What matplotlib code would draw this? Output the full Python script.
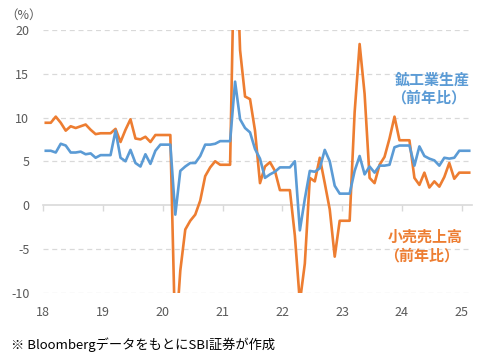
import numpy as np
import matplotlib
matplotlib.use("Agg")
import matplotlib.pyplot as plt

plt.rcParams['font.family'] = ['Noto Sans CJK JP', 'DejaVu Sans']

# Monthly, Jan 2018 - Feb 2025 (Jan/Feb carry the previous value)
industrial = [6.2, 6.2, 6.0, 7.0, 6.8, 6.0, 6.0, 6.1, 5.8, 5.9, 5.4, 5.7,
              5.7, 5.7, 8.5, 5.4, 5.0, 6.3, 4.8, 4.4, 5.8, 4.7, 6.2, 6.9,
              6.9, 6.9, -1.1, 3.9, 4.4, 4.8, 4.8, 5.6, 6.9, 6.9, 7.0, 7.3,
              7.3, 7.3, 14.1, 9.8, 8.8, 8.3, 6.4, 5.3, 3.1, 3.5, 3.8, 4.3,
              4.3, 4.3, 5.0, -2.9, 0.7, 3.9, 3.8, 4.2, 6.3, 5.0, 2.2, 1.3,
              1.3, 1.3, 3.9, 5.6, 3.5, 4.4, 3.7, 4.5, 4.5, 4.6, 6.6, 6.8,
              6.8, 6.8, 4.5, 6.7, 5.6, 5.3, 5.1, 4.5, 5.4, 5.3, 5.4, 6.2,
              6.2, 6.2]
retail = [9.4, 9.4, 10.1, 9.4, 8.5, 9.0, 8.8, 9.0, 9.2, 8.6, 8.1, 8.2,
          8.2, 8.2, 8.7, 7.2, 8.6, 9.8, 7.6, 7.5, 7.8, 7.2, 8.0, 8.0,
          8.0, 8.0, -15.8, -7.5, -2.8, -1.8, -1.1, 0.5, 3.3, 4.3, 5.0, 4.6,
          4.6, 4.6, 34.2, 17.7, 12.4, 12.1, 8.5, 2.5, 4.4, 4.9, 3.9, 1.7,
          1.7, 1.7, -3.5, -11.1, -6.7, 3.1, 2.7, 5.4, 2.5, -0.5, -5.9, -1.8,
          -1.8, -1.8, 10.6, 18.4, 12.7, 3.1, 2.5, 4.6, 5.5, 7.6, 10.1, 7.4,
          7.4, 7.4, 3.1, 2.3, 3.7, 2.0, 2.7, 2.1, 3.2, 4.8, 3.0, 3.7,
          3.7, 3.7]
year_labels = ["18", "19", "20", "21", "22", "23", "24", "25"]
y_ticks = [-10, -5, 0, 5, 10, 15, 20]

BLUE = "#5B9BD5"
ORANGE = "#ED7D31"
GRID = "#D9D9D9"
TXT = "#595959"

fig = plt.figure(figsize=(4.91, 3.59), dpi=100)
ax = fig.add_axes([0.0882, 0.1852, 0.8725, 0.7312])

x = np.arange(len(industrial))
ax.plot(x, retail, color=ORANGE, lw=1.9, solid_joinstyle='round', zorder=3)
ax.plot(x, industrial, color=BLUE, lw=1.9, solid_joinstyle='round', zorder=4)

ax.set_xlim(-0.5, len(industrial) - 0.5)
ax.set_ylim(-10, 20)

# y axis
ax.set_yticks(y_ticks)
ax.set_yticklabels([str(v) for v in y_ticks])
ax.tick_params(axis='y', length=0, pad=10, labelsize=9, labelcolor=TXT)
for v in y_ticks:
    if v != 0:
        ax.axhline(v, color=GRID, lw=0.9, ls=(0, (4, 3)), zorder=1)

# x axis on zero line
tick_pos = [-0.5 + 12 * k for k in range(len(year_labels))]
ax.set_xticks(tick_pos)
ax.set_xticklabels(year_labels)
ax.spines['bottom'].set_position(('data', 0))
ax.spines['bottom'].set_color(GRID)
ax.spines['bottom'].set_linewidth(1.2)
ax.tick_params(axis='x', direction='out', length=4, width=1.0, color=GRID,
               pad=69, labelsize=9, labelcolor=TXT)
for s in ['top', 'right', 'left']:
    ax.spines[s].set_visible(False)

# annotations
fig.text(24 / 491, 1 - 15 / 359, "（%）", ha='center', va='center',
         fontsize=9, color=TXT)
fig.text(432 / 491, 1 - 80 / 359, "鉱工業生産", ha='center', va='center',
         fontsize=10.8, fontweight='bold', color=BLUE)
fig.text(429 / 491, 1 - 98 / 359, "（前年比）", ha='center', va='center',
         fontsize=10.8, fontweight='bold', color=BLUE)
fig.text(425 / 491, 1 - 237 / 359, "小売売上高", ha='center', va='center',
         fontsize=10.8, fontweight='bold', color=ORANGE)
fig.text(422 / 491, 1 - 256 / 359, "（前年比）", ha='center', va='center',
         fontsize=10.8, fontweight='bold', color=ORANGE)
fig.text(11 / 491, 1 - 345 / 359, "※ BloombergデータをもとにSBI証券が作成",
         ha='left', va='center', fontsize=9.5, color='black')

fig.savefig("out.png", dpi=100)
